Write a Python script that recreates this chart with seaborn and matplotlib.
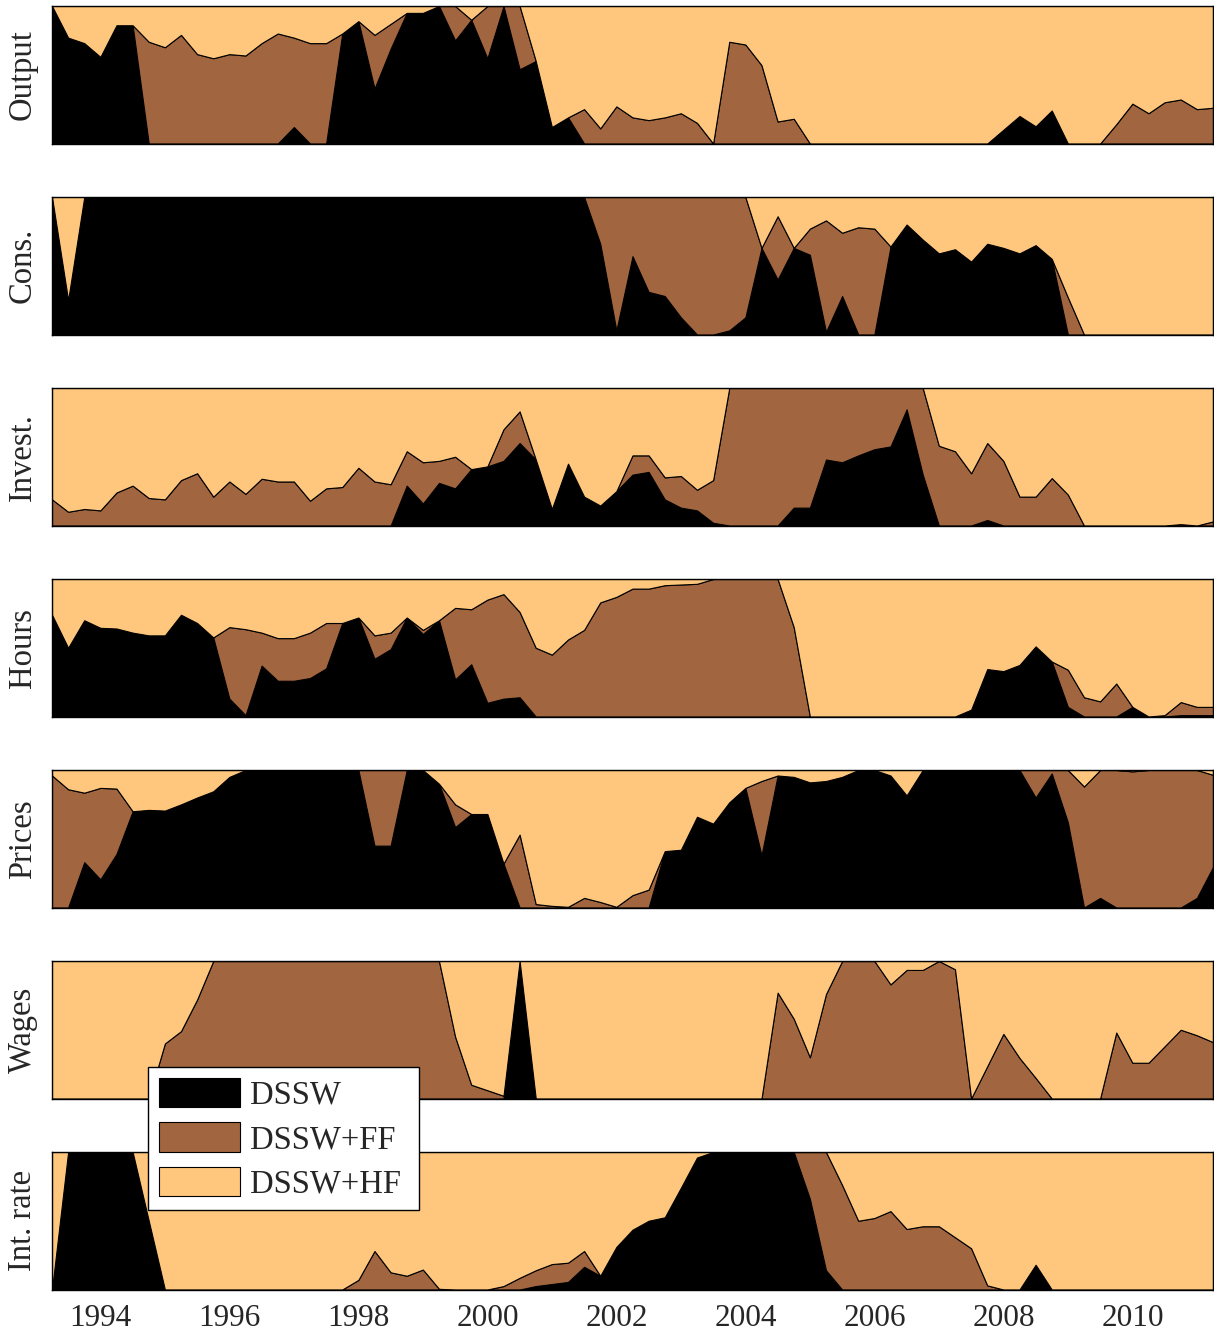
import numpy as np
import matplotlib
matplotlib.use("Agg")
import matplotlib.pyplot as plt
import seaborn as sns

# quarterly dates, 1993Q2 .. 2011Q2
quarters = 1993.25 + 0.25 * np.arange(73)
year_ticks = [1994, 1996, 1998, 2000, 2002, 2004, 2006, 2008, 2010]

model_names = ["DSSW", "DSSW+FF", "DSSW+HF"]
model_colors = ["#000000", "#A1663F", "#FEC77D"]

panel_names = ["Output", "Cons.", "Invest.", "Hours", "Prices", "Wages", "Int. rate"]

# weight of DSSW and the top of the DSSW+FF layer (DSSW + FF), per quarter
output_dssw = [1.0, 0.77, 0.73, 0.63, 0.86, 0.86, 0, 0, 0, 0,
               0, 0, 0, 0, 0, 0.12, 0, 0, 0.80, 0.89,
               0.40, 0.69, 0.95, 0.95, 1.0, 0.75, 0.90, 0.62, 1.0, 0.54,
               0.60, 0.12, 0.19, 0, 0, 0, 0, 0, 0, 0,
               0, 0, 0, 0, 0, 0, 0, 0, 0, 0,
               0, 0, 0, 0, 0, 0, 0, 0, 0, 0.10,
               0.20, 0.125, 0.24, 0, 0, 0, 0, 0, 0, 0,
               0, 0, 0]
output_top = [1.0, 0.77, 0.73, 0.63, 0.86, 0.86, 0.74, 0.70, 0.79, 0.65,
              0.62, 0.65, 0.64, 0.73, 0.80, 0.77, 0.73, 0.73, 0.80, 0.89,
              0.79, 0.87, 0.95, 0.95, 1.0, 1.0, 0.90, 1.0, 1.0, 1.0,
              0.60, 0.12, 0.19, 0.25, 0.11, 0.27, 0.19, 0.17, 0.19, 0.22,
              0.15, 0, 0.74, 0.72, 0.57, 0.16, 0.18, 0, 0, 0,
              0, 0, 0, 0, 0, 0, 0, 0, 0, 0.10,
              0.20, 0.125, 0.24, 0, 0, 0, 0.14, 0.29, 0.22, 0.30,
              0.32, 0.25, 0.26]

cons_dssw = [1.0, 0.25, 1, 1, 1, 1, 1, 1, 1, 1,
             1, 1, 1, 1, 1, 1, 1, 1, 1, 1,
             1, 1, 1, 1, 1, 1, 1, 1, 1, 1,
             1, 1, 1, 1, 0.66, 0.03, 0.57, 0.31, 0.28, 0.125,
             0, 0, 0.03, 0.125, 0.63, 0.40, 0.63, 0.58, 0.02, 0.28,
             0, 0, 0.64, 0.80, 0.69, 0.59, 0.62, 0.53, 0.66, 0.63,
             0.59, 0.65, 0.55, 0, 0, 0, 0, 0, 0, 0,
             0, 0, 0]
cons_top = [1.0, 0.25, 1, 1, 1, 1, 1, 1, 1, 1,
            1, 1, 1, 1, 1, 1, 1, 1, 1, 1,
            1, 1, 1, 1, 1, 1, 1, 1, 1, 1,
            1, 1, 1, 1, 1, 1, 1, 1, 1, 1,
            1, 1, 1, 1, 0.63, 0.86, 0.63, 0.77, 0.83, 0.74,
            0.78, 0.77, 0.64, 0.80, 0.69, 0.59, 0.62, 0.53, 0.66, 0.63,
            0.59, 0.65, 0.55, 0.27, 0, 0, 0, 0, 0, 0,
            0, 0, 0]

invest_dssw = [0, 0, 0, 0, 0, 0, 0, 0, 0, 0,
               0, 0, 0, 0, 0, 0, 0, 0, 0, 0,
               0, 0, 0.29, 0.16, 0.31, 0.27, 0.41, 0.43, 0.47, 0.60,
               0.48, 0.12, 0.45, 0.21, 0.145, 0.25, 0.37, 0.39, 0.19, 0.13,
               0.11, 0.02, 0, 0, 0, 0, 0.13, 0.13, 0.48, 0.46,
               0.51, 0.555, 0.575, 0.845, 0.37, 0, 0, 0, 0.04, 0,
               0, 0, 0, 0, 0, 0, 0, 0, 0, 0,
               0, 0, 0]
invest_top = [0.19, 0.10, 0.12, 0.11, 0.24, 0.29, 0.20, 0.19, 0.33, 0.38,
              0.21, 0.32, 0.23, 0.34, 0.32, 0.32, 0.18, 0.27, 0.28, 0.42,
              0.32, 0.30, 0.54, 0.46, 0.47, 0.50, 0.41, 0.43, 0.70, 0.83,
              0.48, 0.12, 0.45, 0.21, 0.145, 0.25, 0.51, 0.51, 0.35, 0.36,
              0.26, 0.33, 1, 1, 1, 1, 1, 1, 1, 1,
              1, 1, 1, 1, 1, 0.58, 0.54, 0.38, 0.60, 0.47,
              0.21, 0.21, 0.345, 0.225, 0, 0, 0, 0, 0, 0,
              0.01, 0, 0.03]

hours_dssw = [0.74, 0.50, 0.70, 0.645, 0.64, 0.61, 0.59, 0.59, 0.74, 0.68,
              0.575, 0.13, 0.01, 0.37, 0.26, 0.26, 0.28, 0.35, 0.68, 0.72,
              0.42, 0.49, 0.72, 0.60, 0.70, 0.27, 0.38, 0.10, 0.13, 0.14,
              0, 0, 0, 0, 0, 0, 0, 0, 0, 0,
              0, 0, 0, 0, 0, 0, 0, 0, 0, 0,
              0, 0, 0, 0, 0, 0, 0, 0.05, 0.345, 0.33,
              0.375, 0.51, 0.40, 0.07, 0, 0, 0, 0.07, 0, 0,
              0.01, 0.01, 0.01]
hours_top = [0.74, 0.50, 0.70, 0.645, 0.64, 0.61, 0.59, 0.59, 0.74, 0.68,
             0.575, 0.65, 0.635, 0.61, 0.57, 0.57, 0.61, 0.68, 0.68, 0.72,
             0.59, 0.61, 0.72, 0.63, 0.70, 0.79, 0.78, 0.85, 0.89, 0.76,
             0.50, 0.45, 0.56, 0.63, 0.83, 0.87, 0.93, 0.93, 0.955, 0.96,
             0.965, 1, 1, 1, 1, 1, 0.65, 0, 0, 0,
             0, 0, 0, 0, 0, 0, 0, 0.05, 0.345, 0.33,
             0.375, 0.51, 0.40, 0.34, 0.14, 0.11, 0.24, 0.07, 0, 0.01,
             0.105, 0.07, 0.07]

prices_dssw = [0, 0, 0.33, 0.205, 0.39, 0.70, 0.71, 0.705, 0.75, 0.80,
               0.845, 0.95, 1, 1, 1, 1, 1, 1, 1, 1,
               0.45, 0.45, 1, 1, 0.90, 0.585, 0.68, 0.68, 0.32, 0,
               0, 0, 0, 0, 0, 0, 0, 0, 0.41, 0.42,
               0.66, 0.61, 0.765, 0.87, 0.38, 0.96, 0.95, 0.91, 0.92, 0.95,
               1, 1, 0.96, 0.815, 1, 1, 1, 1, 1, 1,
               1, 0.80, 0.975, 0.62, 0, 0.07, 0, 0, 0, 0,
               0, 0.07, 0.295]
prices_top = [0.96, 0.86, 0.835, 0.87, 0.865, 0.70, 0.71, 0.705, 0.75, 0.80,
              0.845, 0.95, 1, 1, 1, 1, 1, 1, 1, 1,
              1, 1, 1, 1, 0.90, 0.75, 0.68, 0.68, 0.32, 0.53,
              0.025, 0.012, 0.005, 0.07, 0.04, 0.005, 0.09, 0.13, 0.41, 0.42,
              0.66, 0.61, 0.765, 0.87, 0.92, 0.96, 0.95, 0.91, 0.92, 0.95,
              1, 1, 0.96, 0.815, 1, 1, 1, 1, 1, 1,
              1, 1, 1, 1, 0.88, 1, 1, 0.99, 1, 1,
              1, 1, 0.965]

wages_dssw = [0, 0, 0, 0, 0, 0, 0, 0, 0, 0,
              0, 0, 0, 0, 0, 0, 0, 0, 0, 0,
              0, 0, 0, 0, 0, 0, 0, 0, 0, 1.0,
              0, 0, 0, 0, 0, 0, 0, 0, 0, 0,
              0, 0, 0, 0, 0, 0, 0, 0, 0, 0,
              0, 0, 0, 0, 0, 0, 0, 0, 0, 0,
              0, 0, 0, 0, 0, 0, 0, 0, 0, 0,
              0, 0, 0]
wages_top = [0, 0, 0, 0, 0, 0, 0, 0.40, 0.49, 0.72,
             1, 1, 1, 1, 1, 1, 1, 1, 1, 1,
             1, 1, 1, 1, 1, 0.45, 0.10, 0.06, 0.02, 1.0,
             0, 0, 0, 0, 0, 0, 0, 0, 0, 0,
             0, 0, 0, 0, 0, 0.77, 0.58, 0.30, 0.76, 1,
             1, 1, 0.83, 0.935, 0.935, 1, 0.94, 0, 0.235, 0.47,
             0.295, 0.15, 0, 0, 0, 0, 0.48, 0.26, 0.26, 0.38,
             0.50, 0.46, 0.41]

rate_dssw = [0, 1, 1, 1, 1, 1, 0.5, 0, 0, 0,
             0, 0, 0, 0, 0, 0, 0, 0, 0, 0,
             0, 0, 0, 0, 0, 0, 0, 0, 0, 0,
             0.025, 0.04, 0.055, 0.165, 0.10, 0.31, 0.435, 0.50, 0.525, 0.74,
             0.96, 1, 1, 1, 1, 1, 1, 0.66, 0.14, 0,
             0, 0, 0, 0, 0, 0, 0, 0, 0, 0,
             0, 0.18, 0, 0, 0, 0, 0, 0, 0, 0,
             0, 0, 0]
rate_top = [0, 1, 1, 1, 1, 1, 0.5, 0, 0, 0,
            0, 0, 0, 0, 0, 0, 0, 0, 0, 0.07,
            0.28, 0.125, 0.10, 0.145, 0.005, 0, 0, 0, 0.025, 0.085,
            0.14, 0.185, 0.195, 0.28, 0.10, 0.31, 0.435, 0.50, 0.525, 0.74,
            0.96, 1, 1, 1, 1, 1, 1, 1, 1, 0.76,
            0.50, 0.52, 0.57, 0.44, 0.46, 0.46, 0.38, 0.30, 0.03, 0,
            0, 0.18, 0, 0, 0, 0, 0, 0, 0, 0,
            0, 0, 0]

panel_dssw = [output_dssw, cons_dssw, invest_dssw, hours_dssw, prices_dssw, wages_dssw, rate_dssw]
panel_top = [output_top, cons_top, invest_top, hours_top, prices_top, wages_top, rate_top]

sns.set_theme(style="white")
plt.rcParams["font.family"] = ["Liberation Serif", "DejaVu Serif"]
plt.rcParams["axes.edgecolor"] = "black"
plt.rcParams["axes.linewidth"] = 1.0

W, H = 1214, 1335
fig = plt.figure(figsize=(W / 100, H / 100), dpi=100)

left_px, right_px = 52, 1213
for k, name in enumerate(panel_names):
    top_px = 6 + 191 * k
    ax = fig.add_axes([left_px / W, 1 - (top_px + 137.5) / H,
                       (right_px - left_px) / W, 137.5 / H])
    dssw = np.array(panel_dssw[k], dtype=float)
    top = np.array(panel_top[k], dtype=float)
    ff = np.clip(top - dssw, 0, 1)
    hf = np.clip(1 - top, 0, 1)
    polys = ax.stackplot(quarters, dssw, ff, hf, colors=model_colors,
                         labels=model_names, edgecolor="black", linewidth=0.8)
    ax.set_xlim(1993.25, 2011.25)
    ax.set_ylim(0, 1)
    ax.set_yticks([])
    ax.set_ylabel(name, fontsize=23.5)
    ax.yaxis.set_label_coords(-0.012, 0.5)
    for s in ax.spines.values():
        s.set_visible(True)
        s.set_color("black")
    if k == len(panel_names) - 1:
        ax.set_xticks(year_ticks)
        ax.set_xticklabels([str(y) for y in year_ticks], fontsize=22.5)
        ax.tick_params(axis="x", length=0, pad=10.5)
    else:
        ax.set_xticks([])

# legend box spans 148..419 px horizontally, top edge at 1067 px
fig.legend(polys, model_names, loc="upper left", mode="expand",
           bbox_to_anchor=(148 / W, 1 - 1206 / H, 271 / W, 139 / H),
           borderaxespad=0, fontsize=23.5, frameon=True, fancybox=False,
           framealpha=1, edgecolor="black", handlelength=2.5,
           handleheight=1.0, labelspacing=0.36, handletextpad=0.28,
           borderpad=0.33)

fig.savefig("out.png", dpi=100)
